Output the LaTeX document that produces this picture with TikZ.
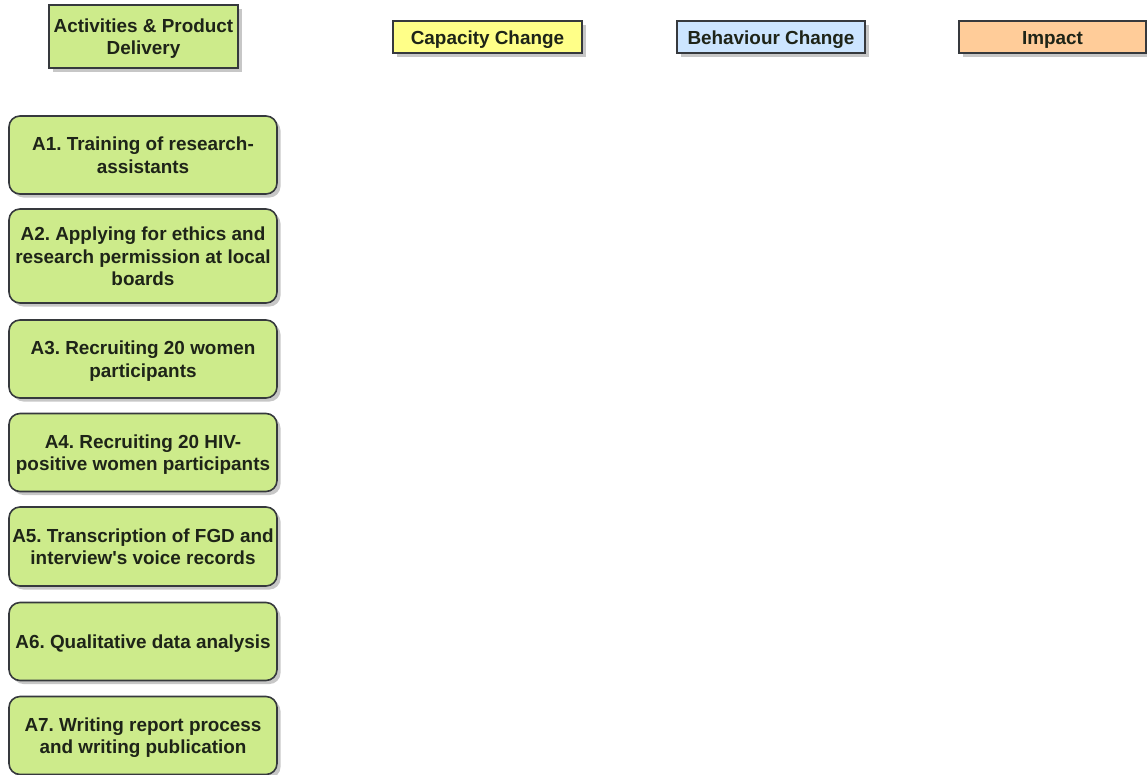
\documentclass[tikz,border=0pt]{standalone}
\usepackage{fontspec}
\setmainfont{Liberation Sans}
\usetikzlibrary{shadows}
\frenchspacing
\definecolor{limefill}{HTML}{CDEB8B}
\definecolor{yelfill}{HTML}{FFFF88}
\definecolor{bluefill}{HTML}{CCE5FF}
\definecolor{orfill}{HTML}{FFCC99}
\definecolor{edge}{HTML}{36393D}
\definecolor{txt}{HTML}{1E2418}
\newcommand{\lsa}{\rule{0pt}{18.9pt}}
\newcommand{\ls}{\rule[-4.8pt]{0pt}{4.8pt}}
\tikzset{
  base/.style={draw=edge, line width=1.6pt, inner sep=0pt, align=center,
    text=txt, font=\fontsize{18.9}{22.7}\selectfont\bfseries,
    drop shadow={shadow xshift=3.5pt, shadow yshift=-3.5pt, fill=black, opacity=0.22}},
  hdr/.style={base, rectangle},
  act/.style={base, rectangle, rounded corners=11pt, fill=limefill,
    minimum width=268pt},
}
\begin{document}
\begin{tikzpicture}[x=1pt,y=-1pt]
\useasboundingbox (0,0) rectangle (1147,774);
\node[hdr, fill=limefill, minimum width=189pt, minimum height=63pt] (h1) at (143.5,36.5) {\lsa Activities \& Product\\Delivery\ls};
\node[hdr, fill=yelfill, minimum width=189pt, minimum height=32pt] (h2) at (487.5,37) {\lsa Capacity Change\ls};
\node[hdr, fill=bluefill, minimum width=188pt, minimum height=32pt] (h3) at (771,37) {\lsa Behaviour Change\ls};
\node[hdr, fill=orfill, minimum width=187pt, minimum height=32pt] (h4) at (1052.5,37) {\lsa Impact\ls};

\node[act, minimum height=78pt] (a1) at (143,155) {\lsa A1. Training of research-\\assistants\ls};
\node[act, minimum height=94pt] (a2) at (143,256) {\lsa A2. Applying for ethics and\\research permission at local\\boards\ls};
\node[act, minimum height=78pt] (a3) at (143,359) {\lsa A3. Recruiting 20 women\\participants\ls};
\node[act, minimum height=78pt] (a4) at (143,452.5) {\lsa A4. Recruiting 20 HIV-\\positive women participants\ls};
\node[act, minimum height=79pt] (a5) at (143,546.5) {\lsa A5. Transcription of FGD and\\interview\textquotesingle s voice records\ls};
\node[act, minimum height=78pt] (a6) at (143,641.5) {\lsa A6. Qualitative data analysis\ls};
\node[act, minimum height=78pt] (a7) at (143,735.5) {\lsa A7. Writing report process\\and writing publication\ls};
\end{tikzpicture}
\end{document}
